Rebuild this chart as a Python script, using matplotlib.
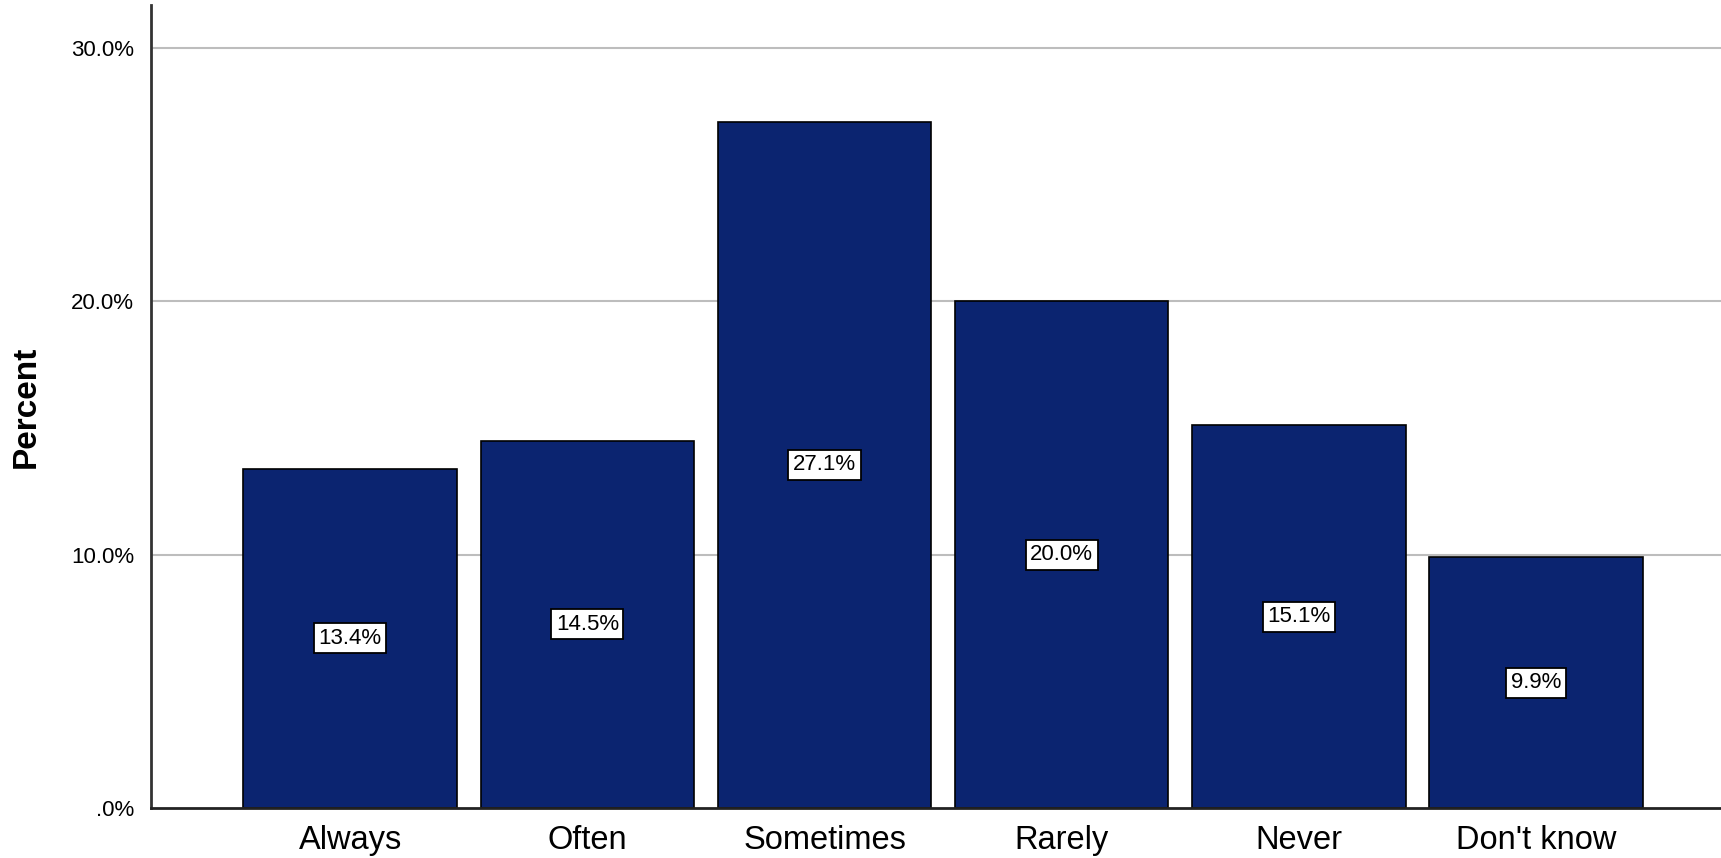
import numpy as np
import matplotlib
matplotlib.use("Agg")
import matplotlib.pyplot as plt
from matplotlib.ticker import FuncFormatter

categories = ["Always", "Often", "Sometimes", "Rarely", "Never", "Don't know"]
percents = [13.4, 14.5, 27.1, 20.0, 15.1, 9.9]
y_ticks = [0, 10, 20, 30]

BAR_COLOR = "#0B2470"
GRID_COLOR = "#BDBDBD"

plt.rcParams["font.family"] = ["Liberation Sans", "DejaVu Sans"]

fig = plt.figure(figsize=(17.21, 8.58), dpi=100)
ax = fig.add_axes([0.0877, 0.0583, 0.9123, 0.9359])

x = np.arange(len(categories))
bars = ax.bar(x, percents, width=0.90, color=BAR_COLOR,
              edgecolor="black", linewidth=1.2, zorder=2)

for bar, val in zip(bars, percents):
    ax.text(bar.get_x() + bar.get_width() / 2, val / 2, f"{val:.1f}%",
            ha="center", va="center", fontsize=16, color="black", zorder=3,
            bbox=dict(boxstyle="square,pad=0.2", facecolor="white",
                      edgecolor="black", linewidth=1.3))

ax.set_xlim(-0.84, 5.78)
ax.set_ylim(0, 31.7)
ax.set_yticks(y_ticks)
ax.yaxis.set_major_formatter(
    FuncFormatter(lambda v, _: ".0%" if v == 0 else f"{v:.1f}%"))
ax.set_xticks(x)
ax.set_xticklabels(categories, fontsize=23.5)
ax.tick_params(axis="y", labelsize=16, length=0, pad=12)
ax.tick_params(axis="x", length=0, pad=12)

for t in y_ticks[1:]:
    ax.axhline(t, color=GRID_COLOR, linewidth=1.5, zorder=1)

# label's right edge ~42 px from the left of the figure
ax.set_ylabel("Percent", fontsize=24, fontweight="bold")
ax.yaxis.set_label_coords((42 - 151) / 1570, 0.5)

for s in ["top", "right"]:
    ax.spines[s].set_visible(False)
ax.spines["left"].set_color("#333333")
ax.spines["left"].set_linewidth(2)
ax.spines["bottom"].set_color("#222222")
ax.spines["bottom"].set_linewidth(2)

plt.savefig("out.png", dpi=100)
plt.close()
